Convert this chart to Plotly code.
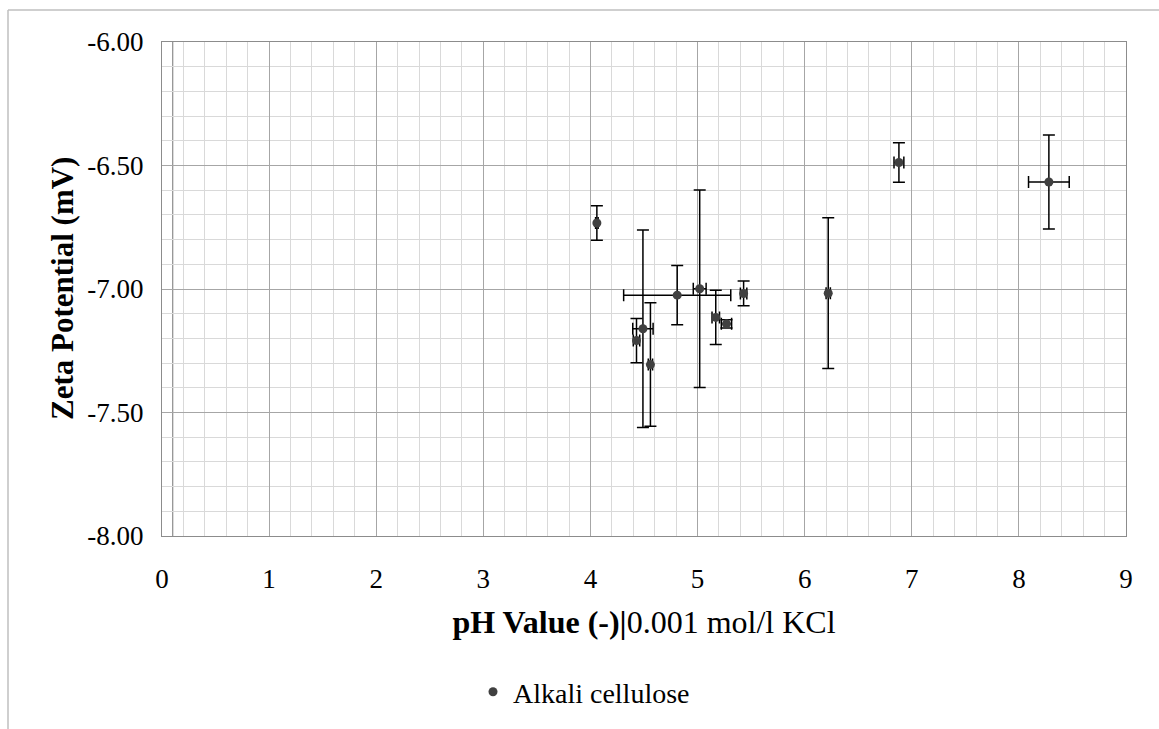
import plotly.graph_objects as go

# Data
ph = [4.06, 4.43, 4.49, 4.56, 4.81, 5.02, 5.17, 5.27, 5.43, 6.22, 6.88, 8.28]
ph_err = [0.012, 0.03, 0.095, 0.02, 0.50, 0.06, 0.035, 0.048, 0.03, 0.02, 0.046, 0.19]
zeta = [-6.733, -7.209, -7.161, -7.306, -7.025, -6.999, -7.115, -7.141, -7.018, -7.017, -6.488, -6.567]
zeta_err = [0.07, 0.09, 0.40, 0.25, 0.12, 0.40, 0.11, 0.017, 0.05, 0.305, 0.08, 0.19]
series_name = "Alkali cellulose"
x_ticks = [0, 1, 2, 3, 4, 5, 6, 7, 8, 9]
y_ticks = [-8.0, -7.5, -7.0, -6.5, -6.0]

W, H = 1159, 729
L, R, T, B = 162, 33, 42, 193
FONT = "Liberation Serif"

fig = go.Figure()
fig.add_trace(go.Scatter(
    x=ph, y=zeta, mode="markers", name=series_name,
    marker=dict(color="#404040", size=9),
    error_y=dict(type="data", array=zeta_err, visible=True, color="black", thickness=1.5, width=6),
    error_x=dict(type="data", array=ph_err, visible=True, color="black", thickness=1.5, width=6),
))

pw = W - L - R
ph_px = H - T - B
shapes = [
    # outer chart frame (top and left edges)
    dict(type="line", xref="paper", yref="paper", x0=(8 - L) / pw, x1=(W + 5 - L) / pw,
         y0=1 + (T - 10) / ph_px, y1=1 + (T - 10) / ph_px, line=dict(color="#bfbfbf", width=1.5)),
    dict(type="line", xref="paper", yref="paper", x0=(8 - L) / pw, x1=(8 - L) / pw,
         y0=1 + (T - 10) / ph_px, y1=-(B + 5) / ph_px, line=dict(color="#bfbfbf", width=1.5)),
    # extra vertical line near the y axis
    dict(type="line", xref="x", yref="paper", x0=0.1, x1=0.1, y0=0, y1=1,
         line=dict(color="#8c8c8c", width=1.2), layer="below"),
]

fig.update_layout(
    width=W, height=H,
    margin=dict(l=L, r=R, t=T, b=B, autoexpand=False),
    paper_bgcolor="white", plot_bgcolor="white",
    font=dict(family=FONT, size=27, color="black"),
    showlegend=True,
    legend=dict(xref="container", yref="container", x=473 / W, y=(H - 692) / H,
                xanchor="left", yanchor="middle", font=dict(size=28)),
    shapes=shapes,
    annotations=[dict(
        text="<b>Zeta Potential (mV)</b>", textangle=-90,
        xref="paper", yref="paper", x=(62 - L) / pw, y=0.5,
        xanchor="center", yanchor="middle", showarrow=False,
        font=dict(size=31, family=FONT, color="black"),
    )],
)

fig.update_xaxes(
    range=[0, 9], tickvals=x_ticks, ticktext=[str(v) for v in x_ticks],
    showgrid=True, gridcolor="#a6a6a6", gridwidth=1.2,
    minor=dict(dtick=0.2, showgrid=True, gridcolor="#d9d9d9", gridwidth=1.2),
    showline=True, linecolor="#8c8c8c", linewidth=1.2, mirror=True,
    zeroline=False, ticks="", ticklabelstandoff=18, automargin=False,
    tickfont=dict(size=27),
    title=dict(text="<b>pH Value (-)|</b>0.001 mol/l KCl", font=dict(size=32), standoff=18),
)
fig.update_yaxes(
    range=[-8, -6], tickvals=y_ticks, ticktext=[f"{v:.2f}" for v in y_ticks],
    showgrid=True, gridcolor="#a6a6a6", gridwidth=1.2,
    minor=dict(dtick=0.1, showgrid=True, gridcolor="#d9d9d9", gridwidth=1.2),
    showline=True, linecolor="#8c8c8c", linewidth=1.2, mirror=True,
    zeroline=False, ticks="", ticklabelstandoff=12, automargin=False,
    tickfont=dict(size=27),
)

fig.write_html("out.html")
